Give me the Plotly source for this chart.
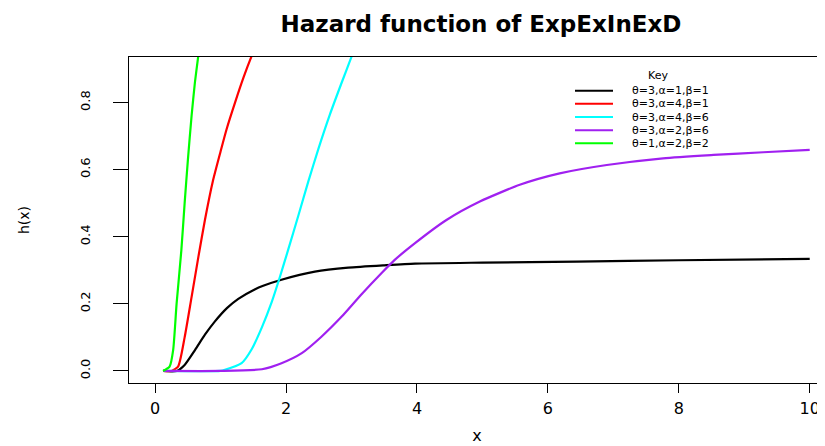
import plotly.graph_objects as go

# ---------------- data ----------------
series_names = ["θ=3,α=1,β=1", "θ=3,α=4,β=1", "θ=3,α=4,β=6", "θ=3,α=2,β=6", "θ=1,α=2,β=2"]
series_colors = ["#000000", "#FF0000", "#00FFFF", "#A020F0", "#00FF00"]

black_x = [0.12, 0.33, 0.45, 0.61, 0.76, 0.91, 1.1, 1.27, 1.52, 1.65, 1.93, 2.44, 2.95, 3.5, 3.97, 5.0, 6.44, 8.0, 10.0]
black_y = [0.0, 0.0, 0.018, 0.063, 0.108, 0.147, 0.188, 0.215, 0.243, 0.254, 0.272, 0.296, 0.308, 0.315, 0.320, 0.323, 0.326, 0.330, 0.334]

red_x = [0.12, 0.25, 0.35, 0.45, 0.556, 0.66, 0.76, 0.88, 1.0, 1.09, 1.22, 1.35, 1.47, 1.52]
red_y = [0.0, 0.0, 0.013, 0.10, 0.22, 0.34, 0.45, 0.565, 0.655, 0.72, 0.80, 0.875, 0.937, 0.96]

cyan_x = [0.12, 1.0, 1.065, 1.32, 1.47, 1.63, 1.78, 1.905, 2.03, 2.19, 2.34, 2.49, 2.67, 2.85, 3.0, 3.04]
cyan_y = [0.0, 0.0, 0.003, 0.023, 0.063, 0.13, 0.205, 0.28, 0.36, 0.465, 0.565, 0.66, 0.765, 0.86, 0.937, 0.96]

purple_x = [0.12, 1.0, 1.63, 1.93, 2.24, 2.54, 2.85, 3.15, 3.46, 3.66, 3.97, 4.45, 4.96, 5.57, 6.18, 6.90, 7.76, 8.53, 9.29, 10.0]
purple_y = [0.0, 0.0, 0.005, 0.023, 0.053, 0.102, 0.162, 0.228, 0.292, 0.331, 0.381, 0.45, 0.505, 0.555, 0.589, 0.614, 0.634, 0.644, 0.652, 0.659]

green_x = [0.12, 0.22, 0.275, 0.327, 0.40, 0.45, 0.50, 0.556, 0.607, 0.657, 0.68]
green_y = [0.0, 0.013, 0.063, 0.20, 0.36, 0.50, 0.63, 0.76, 0.86, 0.937, 0.97]

x_ticks = [0, 2, 4, 6, 8, 10]
y_ticks = [0.0, 0.2, 0.4, 0.6, 0.8]
y_ticklabels = ["0.0", "0.2", "0.4", "0.6", "0.8"]

title_text = "Hazard function of ExpExInExD"
legend_title = "Key"

# ---------------- figure ----------------
OFF = 8                      # page body margin in the browser
W, H = 825 - OFF, 446 - OFF
ML, MR, MT, MB = 129 - OFF, 0, 57 - OFF, 63
FONT = "DejaVu Sans"

xs = [black_x, red_x, cyan_x, purple_x, green_x]
ys = [black_y, red_y, cyan_y, purple_y, green_y]

fig = go.Figure()
for name, color, x, y in zip(series_names, series_colors, xs, ys):
    fig.add_trace(go.Scatter(x=x, y=y, mode="lines", name=name,
                             line=dict(color=color, width=2.2, shape="spline", smoothing=0.6),
                             showlegend=False))

def px_x(page_px):
    return (page_px - OFF - ML) / (W - ML - MR)

def px_y(page_py):
    return (H - MB - (page_py - OFF)) / (H - MT - MB)

# manual legend (R style, no box)
LEG_FONT = 11
annotations = [dict(text=legend_title, x=px_x(658), y=px_y(75), xref="paper", yref="paper",
                    showarrow=False, xanchor="center", yanchor="middle",
                    font=dict(family=FONT, size=LEG_FONT, color="black"))]
shapes = []
for i, (name, color) in enumerate(zip(series_names, series_colors)):
    row = 90.7 + 13.15 * i
    shapes.append(dict(type="line", xref="paper", yref="paper",
                       x0=px_x(575), x1=px_x(613), y0=px_y(row), y1=px_y(row),
                       line=dict(color=color, width=2)))
    annotations.append(dict(text=name, x=px_x(630), y=px_y(row), xref="paper", yref="paper",
                            showarrow=False, xanchor="left", yanchor="middle",
                            font=dict(family=FONT, size=LEG_FONT, color="black")))

fig.update_layout(
    width=W, height=H,
    margin=dict(l=ML, r=MR, t=MT, b=MB, pad=0),
    paper_bgcolor="white", plot_bgcolor="white",
    title=dict(text=title_text, x=(481 - OFF) / W, xref="container", xanchor="center",
               y=1 - (24 - OFF) / H, yref="container", yanchor="middle",
               font=dict(family=FONT, size=23, color="black", weight="bold")),
    xaxis=dict(range=[-0.4, (825 - 155.3) / 65.44], tickvals=x_ticks,
               ticks="outside", ticklen=9, tickwidth=1, tickcolor="black",
               showline=True, linecolor="black", linewidth=1, mirror=True,
               showgrid=False, zeroline=False, ticklabelstandoff=2,
               tickfont=dict(family=FONT, size=16, color="black"),
               title=dict(text="x", standoff=12, font=dict(family=FONT, size=16, color="black"))),
    yaxis=dict(range=[-0.036, 0.936], tickvals=y_ticks, ticktext=y_ticklabels,
               tickangle=-90, ticks="outside", ticklen=15, tickwidth=1, tickcolor="black",
               showline=True, linecolor="black", linewidth=1, mirror=False,
               showgrid=False, zeroline=False, ticklabelstandoff=18,
               tickfont=dict(family=FONT, size=13, color="black"),
               title=dict(text="h(x)", standoff=44, font=dict(family=FONT, size=14, color="black"))),
    annotations=annotations,
    shapes=shapes,
)

fig.write_html("out.html")
